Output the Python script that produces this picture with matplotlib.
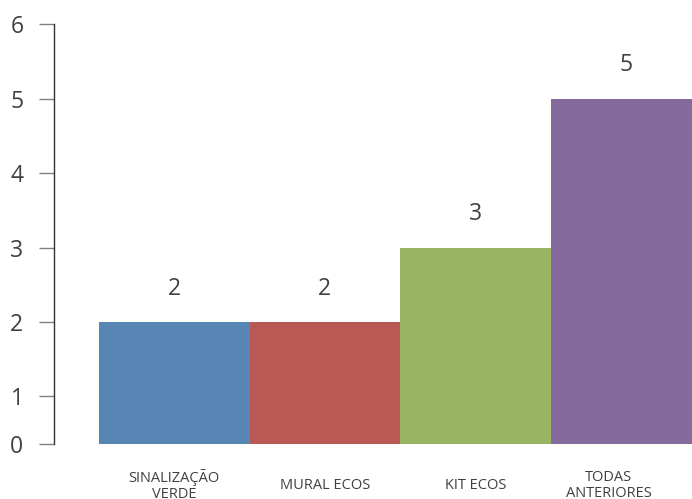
import matplotlib
matplotlib.use("Agg")
import matplotlib.pyplot as plt
from matplotlib.transforms import ScaledTranslation

categories = ["SINALIZAÇÃO\nVERDE", "MURAL ECOS", "KIT ECOS", "TODAS\nANTERIORES"]
values = [2, 2, 3, 5]
colors = ["#5886b4", "#b85956", "#99b463", "#846b9c"]
ytick_vals = [0.36, 1, 2, 3, 4, 5, 6]
ytick_labels = ["0", "1", "2", "3", "4", "5", "6"]

plt.rcParams["font.family"] = ["Open Sans", "DejaVu Sans"]
text_color = "#404040"

fig = plt.figure(figsize=(6.92, 4.99), dpi=100)
ax = fig.add_axes([54 / 692, 55 / 499, 1 - 54 / 692, (444 - 24.4) / 499])

x = list(range(len(values)))
ax.bar(x, values, width=1.0, color=colors, linewidth=0)

for xi, v in zip(x, values):
    ax.annotate(str(v), (xi, v), xytext=(0, 24), textcoords="offset points",
                ha="center", va="center", fontsize=16.5, color=text_color)

ax.set_xlim(-0.5 - 45 / 150.5, -0.5 + 593 / 150.5)
ax.set_ylim(0.36, 6)

ax.set_yticks(ytick_vals)
ax.set_yticklabels(ytick_labels, fontsize=16.5, color=text_color)
ax.tick_params(axis="y", length=11, width=1, color="#808080", pad=11)

ax.set_xticks(x)
ax.set_xticklabels(categories, fontsize=10.5, color=text_color, va="center",
                   linespacing=1.15)
ax.tick_params(axis="x", length=0, pad=30)

# last label sits a bit left of its bar in the original
lbl = ax.get_xticklabels()[-1]
lbl.set_transform(lbl.get_transform() + ScaledTranslation(-0.17, 0, fig.dpi_scale_trans))

for s in ["top", "right", "bottom"]:
    ax.spines[s].set_visible(False)
ax.spines["left"].set_color("#333333")
ax.spines["left"].set_linewidth(1)

fig.savefig("out.png", dpi=100)
